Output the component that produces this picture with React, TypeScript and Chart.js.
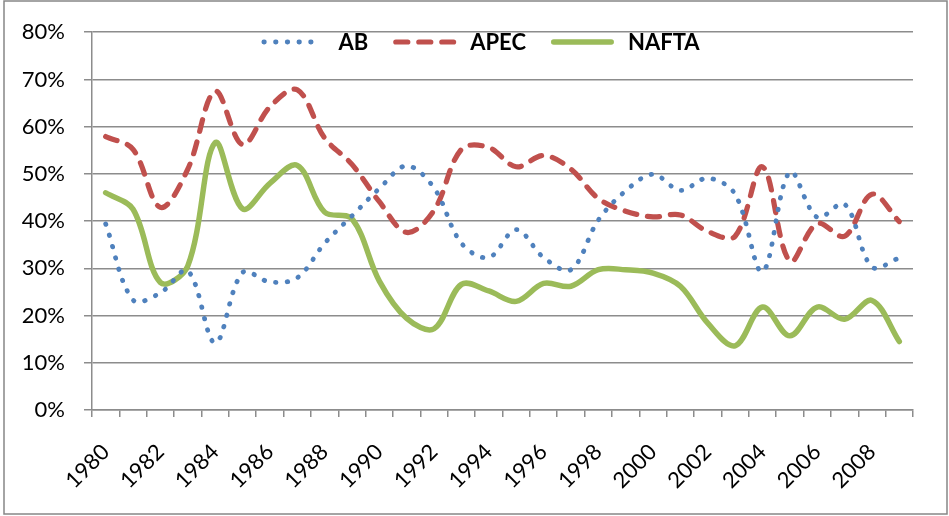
import React, { useEffect, useRef } from "react";
import { Chart, registerables } from "chart.js";

Chart.register(...registerables);

const years = [
  "1980", "1981", "1982", "1983", "1984", "1985", "1986", "1987", "1988", "1989",
  "1990", "1991", "1992", "1993", "1994", "1995", "1996", "1997", "1998", "1999",
  "2000", "2001", "2002", "2003", "2004", "2005", "2006", "2007", "2008", "2009",
];

const abValues = [
  39.4, 23.3, 24.8, 29.5, 14.2, 29.1, 27.1, 28.0, 35.3, 41.1,
  46.9, 51.7, 47.0, 35.3, 32.3, 38.2, 32.3, 29.7, 40.2, 46.4,
  49.9, 46.5, 49.1, 45.7, 29.3, 50.4, 40.8, 43.6, 30.3, 32.2,
];

const apecValues = [
  57.9, 55.2, 42.9, 51.0, 67.5, 56.2, 64.2, 67.8, 57.6, 52.0,
  44.1, 37.6, 42.3, 55.2, 55.6, 51.5, 53.9, 51.0, 44.8, 42.1,
  40.9, 41.3, 37.8, 36.8, 51.5, 31.5, 39.5, 36.8, 45.7, 39.9,
];

const naftaValues = [
  46.0, 42.5, 27.0, 30.5, 56.6, 42.6, 48.0, 51.8, 41.9, 40.5,
  27.3, 19.4, 17.2, 26.6, 25.2, 23.0, 26.8, 26.2, 29.7, 29.7,
  29.0, 26.2, 18.4, 13.6, 21.8, 15.7, 21.8, 19.2, 23.2, 14.5,
];

const seriesNames = ["AB", "APEC", "NAFTA"];

const GRID = "#8c8c8c";
const FONT = "Lato, 'Open Sans', sans-serif";

const frameAndLegend = {
  id: "frameAndLegend",
  beforeDraw(chart: any) {
    const ctx = chart.ctx;
    ctx.save();
    ctx.fillStyle = "#ffffff";
    ctx.fillRect(0, 0, chart.width, chart.height);
    ctx.strokeStyle = "#868686";
    ctx.lineWidth = 1.5;
    ctx.strokeRect(4, 1, 943, 513);
    ctx.restore();
  },
  afterDraw(chart: any) {
    const ctx = chart.ctx;
    const lineLen = 63;
    const gapText = 14;
    const gapItem = 25;
    ctx.save();
    ctx.font = "bold 22px " + FONT;
    const widths = chart.data.datasets.map((d: any) => ctx.measureText(d.label).width);
    let total = 0;
    widths.forEach((w: number, i: number) => {
      total += lineLen + gapText + w + (i < widths.length - 1 ? gapItem : 0);
    });
    let x = chart.width / 2 + 6 - total / 2;
    const y = 42;
    chart.data.datasets.forEach((d: any, i: number) => {
      ctx.save();
      ctx.strokeStyle = d.borderColor;
      ctx.lineWidth = d.borderWidth;
      ctx.lineCap = d.borderCapStyle || "butt";
      ctx.setLineDash(d.borderDash || []);
      ctx.beginPath();
      const inset = d.borderCapStyle === "round" ? d.borderWidth / 2 : 0;
      ctx.moveTo(x + inset, y);
      ctx.lineTo(x + lineLen - inset, y);
      ctx.stroke();
      ctx.restore();
      ctx.fillStyle = "#000000";
      ctx.textAlign = "left";
      ctx.textBaseline = "middle";
      ctx.fillText(d.label, x + lineLen + gapText, y + 1);
      x += lineLen + gapText + widths[i] + gapItem;
    });
    ctx.restore();
  },
};

export default function App() {
  const ref = useRef<HTMLCanvasElement | null>(null);

  useEffect(() => {
    if (!ref.current) return;
    const chart = new Chart(ref.current, {
      type: "line",
      data: {
        labels: years,
        datasets: [
          {
            label: seriesNames[0],
            data: abValues,
            borderColor: "#4F81BD",
            borderWidth: 4.8,
            borderDash: [0.5, 11.2],
            borderCapStyle: "round",
            pointRadius: 0,
            tension: 0.35,
            fill: false,
          },
          {
            label: seriesNames[1],
            data: apecValues,
            borderColor: "#C0504D",
            borderWidth: 5.2,
            borderDash: [12, 11],
            borderCapStyle: "round",
            pointRadius: 0,
            tension: 0.35,
            fill: false,
          },
          {
            label: seriesNames[2],
            data: naftaValues,
            borderColor: "#9BBB59",
            borderWidth: 5.5,
            borderCapStyle: "round",
            borderJoinStyle: "round",
            pointRadius: 0,
            tension: 0.35,
            fill: false,
          },
        ],
      },
      options: {
        responsive: false,
        animation: false,
        devicePixelRatio: 1,
        layout: { padding: { left: 0, right: 36, top: 19, bottom: 0 } },
        plugins: {
          legend: { display: false },
          tooltip: { enabled: false },
        },
        scales: {
          x: {
            type: "category",
            offset: true,
            grid: {
              display: true,
              drawOnChartArea: false,
              drawTicks: true,
              tickLength: 7,
              color: GRID,
              lineWidth: 1.5,
              offset: true,
            },
            border: { display: true, color: GRID, width: 1.5 },
            ticks: {
              autoSkip: false,
              maxRotation: 45,
              minRotation: 45,
              padding: 22,
              color: "#000000",
              font: { family: FONT, size: 22 },
              callback: (_v: any, i: number) => (i % 2 === 0 ? years[i] : ""),
            },
            afterFit: (s: any) => {
              s.height = 106;
            },
          },
          y: {
            min: 0,
            max: 80,
            grid: {
              color: GRID,
              lineWidth: 1.5,
              drawTicks: true,
              tickLength: 8,
            },
            border: { display: true, color: GRID, width: 1.5 },
            ticks: {
              stepSize: 10,
              padding: 19,
              color: "#000000",
              font: { family: FONT, size: 22 },
              callback: (v: any) => v + "%",
            },
            afterFit: (s: any) => {
              s.width = 92;
            },
          },
        },
      },
      plugins: [frameAndLegend],
    });
    return () => chart.destroy();
  }, []);

  return (
    <div style={{ position: "absolute", left: 0, top: 0, width: 949, height: 516 }}>
      <canvas ref={ref} width={949} height={516} style={{ display: "block", width: 949, height: 516 }} />
    </div>
  );
}
